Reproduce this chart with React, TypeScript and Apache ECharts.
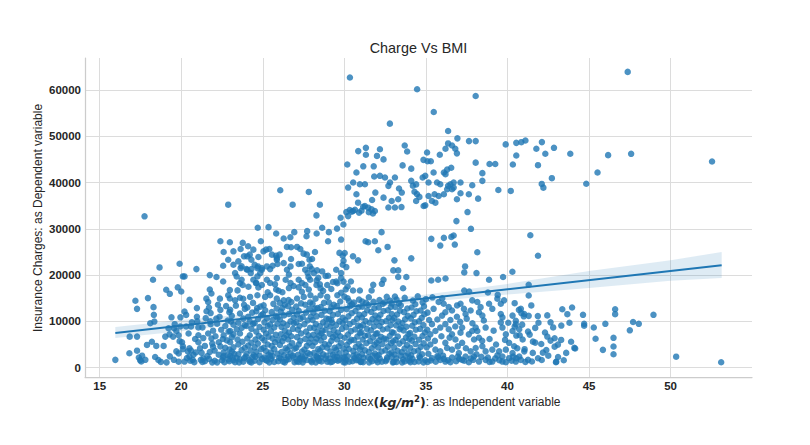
import React, { useEffect, useRef } from "react";
import * as echarts from "echarts";

const FONT = "'Liberation Sans', Arial, Helvetica, sans-serif";
const TEXT = "#262626";
const BLUE = "#1f77b4";

// Regression line and confidence band
const regX = [15.96, 53.13];
const regY = [7495, 22119];
const bandX = [15.96, 20, 25, 30, 35, 40, 45, 50, 53.13];
const bandLower = [6400, 7900, 10200, 12350, 14200, 15800, 17200, 18800, 19400];
const bandUpper = [8800, 10300, 11900, 13700, 15800, 18100, 20900, 23200, 25000];

// Smokers with BMI above 30
const smokersHighBmi: number[][] = [
  [30.34,62680],[34.46,60150],[38.05,58700],[35.48,55230],[32.79,52720],[36.36,51120],[36.93,49540],[37.64,48950],[38.05,48950],[36.36,48450],
  [36.6,48000],[36.8,47300],[36.9,46300],[36.2,47300],[33.7,48000],[33.85,46700],[30.85,46790],[31.32,47500],[31.32,46000],[32.18,47200],
  [32.0,45750],[32.4,45000],[35.85,46000],[35.07,46500],[34.85,44900],[35.1,44600],[35.3,44600],[38.05,44300],[39.25,44000],[38.9,44000],
  [30.18,43900],[31.16,43500],[31.8,43500],[33.57,43700],[34.1,43000],[36.55,43200],[36.3,42800],
  [30.74,42170],[30.54,40000],[30.95,39640],[31.26,39640],[30.23,38910],[31.83,41300],[32.18,41450],[32.49,41090],[32.8,40000],[32.7,39280],
  [33.1,41090],[33.35,38700],[33.52,37830],[33.3,36380],[32.9,36020],[32.4,36740],[31.9,37830],[31.7,36230],[30.84,35650],[31.26,34930],
  [31.46,34570],[31.67,34200],[31.87,33840],[31.15,34780],[30.33,34060],[30.74,37460],[34.1,40360],[34.2,39300],[34.4,39600],[34.3,38000],
  [34.45,37500],[34.6,36900],[34.4,36020],[34.86,34930],[34.96,35070],[34.8,41090],[34.96,41450],[35.16,40000],[35.47,42170],[35.68,40000],
  [35.88,39640],[36.1,42170],[36.2,41810],[36.36,39280],[36.5,39640],[36.7,40000],[37.12,40000],[36.7,38910],[36.6,38550],[36.3,38550],
  [36.1,37460],[35.78,37100],[35.53,37460],[35.37,36020],[35.58,35650],[35.16,37100],[36.9,36380],[37.12,37680],[37.63,37460],[37.84,39420],
  [38.46,40360],[38.46,42030],[38.2,36520],[39.44,38400],[40.2,38190],[37.55,33620],[37.76,30000],[36.87,31670],
  [30.45,33700],[30.65,34100],[30.9,33500],[31.05,33900],[31.5,33600],[31.75,33300],[32.7,34600],[33.1,34600],[33.5,34700],
  [30.12,33620],[30.23,32750],[30.53,33840],[29.77,32390],[29.94,30940],[29.55,30050],
  [39.89,48240],[40.33,43900],[40.54,45830],[40.54,48570],[40.85,48720],[41.1,49080],
  [42.11,48735],[41.77,47300],[42.85,47500],[42.32,46220],[43.85,46220],[41.87,43750],[42.72,40940],[42.1,39700],[42.2,38900],
  [44.83,39730],[45.52,42170],[46.17,45920],[47.58,46200],[52.54,44550],[47.37,63900]
];

// Smokers with BMI below 30
const smokersLowBmi: number[][] = [
  [17.75,32700],[17.19,14450],[17.29,12710],[17.96,15030],[18.27,19000],[18.3,13080],[18.67,21660],[19.08,16830],[19.3,15960],
  [26.07,38330],[27.82,37970],[22.88,35220],[26.83,35220],[28.5,35220],[28.29,32900],[24.69,30220],[25.35,30360],[25.82,28990],[26.28,27900],
  [26.69,28190],[26.93,29280],[27.72,29500],[27.68,28400],[28.3,29000],[28.64,30220],[29.05,29280],[29.0,27320],[29.8,27680],[22.4,27320],
  [22.98,27100],[23.77,26960],[22.6,25000],[23.2,25140],[23.64,25650],[24.1,26230],[24.42,25500],[24.88,27320],[24.2,24420],[23.85,24060],
  [24.73,23910],[25.04,25140],[25.2,25500],[25.4,25650],[25.56,24420],[25.82,24200],[25.86,23330],[26.48,26090],[26.73,26020],[27.1,26090],
  [27.3,25650],[27.5,24640],[27.7,24420],[28.2,25000],[27.86,23330],[28.02,23480],[26.73,23480],[26.28,22600],[27.2,22400],[27.4,22460],
  [27.88,21900],[28.0,21300],[28.13,20440],[28.33,21020],[28.64,20800],[29.0,19860],[28.85,19800],[29.7,24800],[29.9,24200],[29.95,23100],
  [29.9,22250],[29.5,21160],[29.8,20440],[29.8,19350],[29.5,18600],[29.95,18600],[22.88,23330],[22.57,22030],[23.2,22250],[23.5,22970],
  [24.05,24060],[24.3,23330],[24.5,22250],[24.7,21880],[24.94,21160],[23.7,21900],[24.0,21300],[24.3,21300],[24.67,21520],[24.94,21520],
  [25.25,21880],[25.45,21300],[25.6,22030],[25.9,22400],[25.86,23700],[26.03,24420],[24.84,20440],[24.67,19720],[24.42,19000],[24.05,21160],
  [24.26,20440],[23.64,21520],[23.3,20440],[23.4,19700],[23.7,19000],[24.6,18350],[25.25,19000],[25.45,18300],[25.86,19350],[25.75,18000],
  [26.48,21160],[26.7,21880],[26.6,20100],[26.4,19000],[26.7,18300],[27.2,19000],[27.4,18300],[27.6,21160],[27.75,20440],[27.8,19580],
  [27.9,19000],[28.3,18850],[28.4,19400],[28.5,18000],[29.3,18500],[19.9,22460],[20.93,21300],[20.1,19720],[20.2,19720],[21.75,20000],
  [22.16,19580],[22.57,18620],
  [19.79,17350],[21.75,16900],[21.85,16020],[21.54,14920],[21.65,14190],[22.98,16760],[22.88,15660],[23.6,18230],[23.77,17860],[24.12,17490],
  [24.59,18230],[24.73,17350],[24.94,17860],[25.82,16900],[25.97,16610],[26.89,17640],[27.2,17350],[27.61,17860],[27.82,16900],[28.29,17860],
  [28.54,17130],[28.95,17860],[29.57,18230],[30.08,16900],[22.37,14920],[22.98,14950],[23.3,14550],[23.6,15100],[23.8,14900],[24.22,15290],
  [24.67,15660],[25.14,15290],[25.45,15660],[25.86,14920],[26.28,14550],[26.58,14600],[27.1,14950],[27.51,15290],[27.92,15660],[28.23,14920],
  [28.54,15660],[28.95,15290],[29.57,15660],[20.0,16450],[23.45,16700],[26.2,16300],[26.6,17200],[27.4,16400],[28.7,16600],[29.2,17000],
  [29.8,16200],[25.3,16300],[20.51,14660]
];

// Non-smokers with unusually high charges
const nonSmokerHigh: number[][] = [
  [32.28,29280],[31.3,27320],[31.46,27100],[31.87,27320],[32.08,25360],[32.65,26090],[30.53,24060],[30.84,23190],[30.02,24780],[30.12,21740],
  [33.07,23190],[34.1,23620],[33.3,21020],[33.0,21020],[33.3,19580],[33.8,19580],[32.4,18990],[32.3,18120],[31.77,17900],[31.67,16670],
  [30.4,18620],[30.2,17540],[30.0,15360],[30.53,16670],[30.95,16670],[33.6,17170],[33.1,15360],[35.33,27830],[36.1,28050],[36.56,28260],
  [36.7,28550],[35.88,26380],[36.77,26600],[38.15,24930],[37.4,21880],[37.35,20580],[38.1,20440],[35.33,18840],[35.75,19000],[36.2,19280],
  [38.87,18990],[39.73,19580],[40.3,20730],[37.35,16670],[37.65,16450],[38.8,16240],[39.4,15720],[41.4,28600],[41.87,24190],[41.3,17910],
  [41.3,15600],[40.44,13940],[41.46,13450]
];

// Main band, BMI below 25
const bandBmiLow: number[][] = [
  [15.96,1695],[16.82,3120],[16.84,6710],[17.29,6715],[17.29,3680],[17.4,2200],[17.48,1630],[17.6,2600],[17.8,1700],[17.9,4920],[17.55,1350],
  [18.1,9600],[18.32,11420],[18.35,9960],[18.47,4700],[18.6,1670],[18.92,4700],[18.4,2300],[18.75,1250],[18.2,5600],
  [19.02,6715],[19.22,8530],[19.5,6715],[19.56,8530],[19.94,8900],[19.84,7000],[19.84,3100],[19.84,1300],[19.28,7200],[19.7,7940],
  [19.9,5730],[19.7,3530],[19.6,9400],[19.4,10880],[19.95,10880],[19.55,1700],[19.3,2450],[19.1,1150],
  [20.1,4630],[20.4,3530],[20.5,2430],[20.7,1690],[20.2,1320],[20.3,11400],[20.3,8900],[20.6,8900],[20.5,4200],[20.6,3700],
  [20.05,5500],[20.1,4000],[20.35,2100],[20.55,1500],[20.75,2800],[20.9,3300],[20.96,11000],[20.98,10000],[20.85,6200],[20.2,12130],
  [20.45,7400],[20.65,9800],[20.8,1200],[20.96,12870],
  [21.05,8700],[21.3,8700],[21.05,7000],[21.05,5500],[21.35,6400],[21.45,4700],[21.15,4200],[21.25,3200],[21.35,2000],[21.45,1400],
  [21.6,2500],[21.78,10000],[21.8,9400],[21.95,8000],[21.85,6300],[21.9,5200],[21.95,4500],[21.7,13000],[21.8,11800],[21.55,12200],
  [21.2,1700],[21.65,7400],[21.5,10700],[21.9,1150],[21.75,3400],
  [22.4,12500],[22.35,11000],[22.1,6800],[22.3,5500],[22.4,4600],[22.05,3700],[22.3,2800],[22.05,1500],[22.5,1600],[22.55,2200],
  [22.6,3300],[22.7,4300],[22.8,5900],[22.6,7000],[22.9,7800],[22.7,9000],[22.85,10200],[22.95,12000],[22.2,9500],[22.15,10600],
  [22.45,8200],[22.65,1200],[22.85,2700],[22.95,3900],[22.25,13600],[22.75,13300],[22.55,6200],[22.9,1800],
  [23.0,12500],[23.1,11200],[23.05,10000],[23.2,9300],[23.0,7900],[23.2,7200],[23.1,6600],[23.0,5500],[23.2,4400],[23.1,3500],
  [23.0,2500],[23.2,1600],[23.3,1200],[23.4,2100],[23.5,2900],[23.6,1800],[23.7,3800],[23.5,5000],[23.45,6100],[23.6,7400],
  [23.7,8600],[23.5,9700],[23.8,10600],[23.6,11700],[23.9,12700],[23.85,13600],[23.35,13400],[23.75,5600],[23.9,4300],[23.95,2400],
  [23.8,1300],[23.4,8300],[23.9,9200],[23.25,3000],
  [24.05,13000],[24.1,11000],[24.2,10000],[24.0,9000],[24.3,8400],[24.2,7000],[24.05,6300],[24.3,5400],[24.1,4800],[24.25,3700],
  [24.0,3000],[24.35,2300],[24.15,1700],[24.3,1150],[24.5,1500],[24.45,2700],[24.6,3400],[24.5,4400],[24.7,5200],[24.55,6100],
  [24.75,6900],[24.6,7800],[24.8,8800],[24.5,9600],[24.7,10500],[24.9,11300],[24.6,12200],[24.85,13200],[24.4,14000],[24.95,1900],
  [24.8,2600],[24.9,4000],[24.65,12900],[24.35,11900],[24.95,6400],[24.4,9500]
];

// Main band, BMI 25 to 30
const bandBmiMid: number[][] = [
  [25.05,13500],[25.15,12400],[25.0,11600],[25.25,10700],[25.1,9800],[25.3,9000],[25.05,8200],[25.2,7400],[25.35,6700],[25.1,5900],
  [25.3,5000],[25.05,4300],[25.2,3600],[25.35,2800],[25.1,2200],[25.25,1500],[25.4,1150],[25.5,1900],[25.6,2500],[25.5,3300],
  [25.7,4000],[25.55,4700],[25.75,5500],[25.6,6300],[25.8,7100],[25.5,7900],[25.7,8700],[25.9,9500],[25.6,10300],[25.8,11200],
  [25.55,12000],[25.85,12800],[25.65,13800],[25.95,1400],[25.9,3000],[25.95,6000],[25.45,9300],[25.9,10800],
  [26.05,14000],[26.2,12900],[26.1,12100],[26.3,11300],[26.05,10400],[26.25,9600],[26.15,8800],[26.35,8000],[26.1,7200],[26.3,6500],
  [26.2,5700],[26.05,4900],[26.4,4200],[26.15,3400],[26.3,2700],[26.1,2000],[26.25,1300],[26.45,1700],[26.55,2400],[26.7,3100],
  [26.5,3800],[26.65,4600],[26.8,5300],[26.55,6100],[26.75,6800],[26.6,7600],[26.85,8400],[26.5,9200],[26.7,10000],[26.9,10800],
  [26.6,11600],[26.8,12500],[26.55,13300],[26.95,1200],[26.9,2200],[26.95,4100],[26.45,7000],[26.9,9600],[26.35,13600],[26.75,14200],
  [27.05,13200],[27.2,12300],[27.1,11500],[27.3,10600],[27.05,9800],[27.25,9000],[27.15,8200],[27.35,7400],[27.1,6600],[27.3,5800],
  [27.2,5000],[27.05,4300],[27.4,3500],[27.15,2800],[27.3,2100],[27.1,1400],[27.45,1150],[27.5,1800],[27.6,2500],[27.75,3200],
  [27.55,3900],[27.7,4700],[27.85,5400],[27.6,6200],[27.8,7000],[27.65,7800],[27.9,8600],[27.55,9400],[27.75,10200],[27.95,11000],
  [27.65,11900],[27.85,12700],[27.6,13600],[27.95,1500],[27.9,2900],[27.95,6300],[27.45,10900],[27.9,14100],[27.35,13900],[27.25,1900],
  [28.05,13800],[28.2,12800],[28.1,11900],[28.3,11100],[28.05,10300],[28.25,9400],[28.15,8600],[28.35,7800],[28.1,7100],[28.3,6300],
  [28.2,5500],[28.05,4700],[28.4,4000],[28.15,3200],[28.3,2500],[28.1,1800],[28.25,1150],[28.45,1500],[28.55,2200],[28.7,2900],
  [28.5,3600],[28.65,4400],[28.8,5100],[28.55,5900],[28.75,6600],[28.6,7400],[28.85,8200],[28.5,9000],[28.7,9800],[28.9,10600],
  [28.6,11400],[28.8,12300],[28.55,13100],[28.95,1300],[28.9,2600],[28.95,4300],[28.45,6900],[28.9,9300],[28.35,12900],[28.75,14000],
  [28.4,2000],[28.65,8000],
  [29.05,14100],[29.2,13000],[29.1,12200],[29.3,11400],[29.05,10500],[29.25,9700],[29.15,8900],[29.35,8100],[29.1,7300],[29.3,6600],
  [29.2,5800],[29.05,5000],[29.4,4300],[29.15,3500],[29.3,2800],[29.1,2000],[29.25,1300],[29.45,1700],[29.55,2400],[29.7,3100],
  [29.5,3800],[29.65,4600],[29.8,5300],[29.55,6100],[29.75,6800],[29.6,7600],[29.85,8400],[29.5,9200],[29.7,10000],[29.9,10800],
  [29.6,11600],[29.8,12500],[29.55,13300],[29.95,1200],[29.9,2200],[29.95,4100],[29.45,7000],[29.9,9600],[29.35,13600],[29.75,14300],
  [29.6,1500],[29.2,10300]
];

// Main band, BMI 30 to 35
const bandBmiHigh: number[][] = [
  [30.05,1150],[30.12,1720],[30.2,2450],[30.08,3300],[30.27,4050],[30.15,4900],[30.31,5650],[30.02,6480],[30.22,7150],[30.4,7900],
  [30.11,8750],[30.33,9420],[30.06,10250],[30.25,11100],[30.45,11780],[30.14,12640],[30.36,13350],[30.58,14050],[30.5,1380],[30.62,2050],
  [30.75,2830],[30.55,3620],[30.7,4480],[30.88,5120],[30.6,5950],[30.8,6720],[30.95,7480],[30.66,8260],[30.85,9100],[30.57,9890],
  [30.78,10600],[30.92,11450],[30.68,12250],[30.87,13050],[30.47,13700],[30.98,1260],[30.9,2380],[30.96,3950],[30.42,6050],[30.99,8820],
  [30.28,14400],[30.73,1600],
  [31.03,1300],[31.18,2150],[31.09,2900],[31.27,3750],[31.05,4520],[31.35,5300],[31.12,6100],[31.26,6900],[31.04,7650],[31.38,8400],
  [31.15,9250],[31.3,10050],[31.07,10850],[31.22,11600],[31.4,12400],[31.1,13200],[31.33,14000],[31.52,1150],[31.6,1850],[31.74,2600],
  [31.5,3400],[31.68,4200],[31.85,4950],[31.58,5750],[31.77,6550],[31.93,7300],[31.63,8100],[31.82,8900],[31.55,9700],[31.72,10500],
  [31.9,11250],[31.65,12050],[31.84,12850],[31.48,13550],[31.96,1600],[31.88,3050],[31.98,5400],[31.45,7000],[31.95,9900],[31.79,14250],
  [32.04,1200],[32.17,1950],[32.1,2750],[32.28,3500],[32.06,4350],[32.33,5100],[32.13,5900],[32.25,6650],[32.02,7450],[32.36,8250],
  [32.16,9000],[32.3,9850],[32.08,10700],[32.21,11450],[32.4,12250],[32.11,13000],[32.35,13800],[32.53,1400],[32.62,2200],[32.76,2950],
  [32.51,3750],[32.67,4550],[32.86,5300],[32.57,6100],[32.78,6850],[32.92,7650],[32.64,8450],[32.83,9200],[32.56,10050],[32.73,10800],
  [32.91,11600],[32.66,12400],[32.85,13150],[32.47,14100],[32.97,1150],[32.89,3300],[32.99,5700],[32.44,6300],[32.94,10300],[32.8,14500],
  [33.03,1250],[33.19,2000],[33.08,2850],[33.26,3650],[33.05,4400],[33.37,5200],[33.14,6000],[33.28,6750],[33.02,7550],[33.39,8300],
  [33.17,9150],[33.31,9950],[33.06,10750],[33.23,11500],[33.41,12300],[33.12,13100],[33.34,13900],[33.54,1150],[33.61,1800],[33.75,2550],
  [33.52,3350],[33.69,4150],[33.84,4900],[33.59,5700],[33.78,6500],[33.93,7250],[33.63,8050],[33.81,8850],[33.56,9650],[33.72,10450],
  [33.89,11200],[33.66,12000],[33.86,12800],[33.46,13500],[33.97,1500],[33.91,3100],[33.98,6200],[33.48,8700],
  [34.05,1200],[34.18,1900],[34.09,2700],[34.27,3550],[34.04,4300],[34.36,5100],[34.13,5850],[34.29,6700],[34.03,7500],[34.38,8200],
  [34.16,9050],[34.32,9800],[34.07,10650],[34.24,11400],[34.42,12200],[34.12,13000],[34.35,13700],[34.55,1350],[34.63,2150],[34.77,2900],
  [34.52,3700],[34.68,4500],[34.86,5250],[34.58,6050],[34.79,6850],[34.94,7600],[34.64,8400],[34.84,9200],[34.57,10000],[34.74,10750],
  [34.9,11550],[34.67,12350],[34.88,13250],[34.96,1600]
];

// Main band, BMI above 35
const bandBmiTop: number[][] = [
  [35.47,12720],[35.78,14190],[36.09,13820],[36.19,11980],[35.99,11250],[36.4,13080],[36.6,12350],[36.91,13450],[37.12,13820],[37.33,12720],
  [37.43,11610],[37.74,12350],[37.84,14550],[38.15,14190],[38.35,13080],[38.25,11980],[38.46,11250],[38.87,13820],[39.07,12720],[39.38,14920],
  [39.59,13820],[39.79,14550],[39.59,11610],[39.69,10880],[40.31,11250],[40.51,10140],[40.82,12720],[41.03,11610],
  [35.37,9410],[35.58,7940],[35.27,7200],[35.88,8670],[36.19,9410],[36.4,8310],[36.6,7200],[36.81,6100],[37.12,7570],[37.22,8670],
  [37.63,7200],[37.84,7940],[38.05,8670],[38.25,6470],[38.15,7940],[38.66,8670],[39.59,9780],[39.69,8670],[39.9,7200],[40.31,7940],
  [40.51,9410],[40.72,8310],[40.1,5370],[40.41,4630],[40.93,6100],
  [35.27,5000],[35.58,3900],[35.88,3530],[36.19,5370],[36.3,4260],[36.6,3900],[37.02,3160],[37.22,5370],[37.43,2430],[37.74,3530],
  [38.05,4260],[38.46,4630],[38.66,3530],[39.07,3900],[39.49,3530],[39.69,2430],[39.9,3900],[40.31,3160],[40.72,2430],[41.03,3530],
  [35.37,2060],[35.88,1690],[36.19,1320],[36.6,2200],[37.22,1690],[37.63,1180],[37.94,2430],[38.25,1320],[38.66,1690],[39.07,1320],
  [39.38,2650],[39.69,1320],[40.1,2060],[40.51,1320],[40.82,1690],
  [35.1,1250],[35.15,3000],[35.05,4400],[35.12,6300],[35.08,8200],[35.2,10300],[35.1,11900],[35.6,1300],[35.7,2500],[35.55,5800],
  [35.7,10400],[35.95,6800],[36.05,2600],[36.35,1600],[36.45,6500],[36.5,10300],[36.85,1400],[36.95,4600],[36.8,8900],[36.9,11000],
  [37.05,1900],[37.1,9900],[37.45,4200],[37.5,10600],[37.9,1700],[37.95,6100],[37.85,9600],[38.1,2900],[38.45,5800],[38.55,10200],
  [38.8,2200],[38.9,6200],[39.15,8000],[39.3,5000],[39.5,1600],[39.85,6000],[40.05,9700],[40.25,1500],[40.6,4200],[40.9,9300],
  [40.44,8880],[40.54,6940],[40.75,7000],[41.26,7800],[41.36,7150],[41.56,5630],[41.7,5420],[42.07,5130],[42.44,6720],[42.64,5850],
  [42.89,6350],[43.29,6000],[43.09,4980],[42.89,4550],[42.38,3830],[42.17,3250],[41.87,2040],[41.05,4000],[40.54,2040],[41.26,1700],
  [42.99,1300],[40.7,12500],[40.85,11800],[41.0,11100],[41.3,11200],[41.86,11150],[42.44,11300],[42.64,9800],[43.36,12630],[43.67,11560],
  [43.96,13010],[44.63,11420],[44.7,9480],[44.7,9050],[45.29,8690],[45.4,6240],[46.0,9480],[46.6,12630],[46.6,11560],[46.5,6450],
  [46.5,4570],[46.5,2910],[45.85,3850],[44.1,4280],[44.15,4150],[47.5,8070],[47.7,9870],[48.05,9480],[48.95,11420],[50.34,2380],
  [53.1,1170],[41.1,1250],[41.55,3200],[41.7,8600],[41.9,9700],[42.1,1650],[42.3,7600],[42.5,2600],[42.8,8700],[42.97,1170],
  [43.1,2300],[43.3,9100],[43.6,3200],[43.8,9700],[43.9,5600],[43.45,1600]
];

// Youngest non-smokers: dense lowest row of charges
const bottomRow: number[][] = [
  [21.3,1250],[21.7,1900],[22.2,1150],[22.6,2500],[22.95,1400],[23.15,2250],[23.55,1150],[23.85,2050],[24.2,1300],[24.55,2350],
  [24.8,1200],[25.15,1750],[25.45,2450],[25.7,1250],[26.0,2150],[26.35,1150],[26.6,1850],[26.85,2600],[27.2,1250],[27.4,2350],
  [27.7,1650],[28.0,1200],[28.35,2250],[28.6,1350],[28.85,1900],[29.15,1200],[29.4,2400],[29.7,1750],[30.0,2250],[30.3,1300],
  [30.55,2600],[30.85,1700],[31.15,1200],[31.45,2250],[31.7,1400],[32.0,2500],[32.3,1300],[32.6,1750],[32.9,2350],[33.2,1250],
  [33.45,2600],[33.7,1350],[34.0,2100],[34.3,1250],[34.6,2450],[34.85,1150],[35.3,1550],[35.75,2250],[36.1,1900],[36.5,1200],
  [36.95,2400],[37.35,1500],[37.75,2000],[38.4,2350],[38.9,1250],[39.25,2000],[39.9,1200],[40.35,2400],[41.5,1350]
];

// Upper edge of the main band around BMI 30 to 36
const bandUpperEdge: number[][] = [
  [30.2,15000],[30.9,14700],[31.5,15200],[32.15,14600],[32.6,15300],[33.2,14700],[33.7,15100],[34.2,14500],[34.5,15400],[35.0,14800],
  [35.4,15200],[36.0,15000],[31.1,14300],[32.9,13900],[34.8,14100]
];

const allPoints = [
  ...bandBmiLow, ...bandBmiMid, ...bandBmiHigh, ...bandBmiTop, ...bottomRow, ...bandUpperEdge,
  ...nonSmokerHigh, ...smokersLowBmi, ...smokersHighBmi,
];

export default function App() {
  const ref = useRef<HTMLDivElement>(null);
  useEffect(() => {
    if (!ref.current) return;
    const chart = echarts.init(ref.current, undefined, { renderer: "svg" });
    const bandPoly = [
      ...bandX.map((x, i) => [x, bandUpper[i]]),
      ...bandX.map((x, i) => [x, bandLower[i]]).reverse(),
    ];
    chart.setOption({
      animation: false,
      backgroundColor: "#ffffff",
      grid: { left: 85, top: 58, width: 667, height: 319, containLabel: false },
      xAxis: {
        type: "value",
        min: 14.1,
        max: 54.99,
        splitNumber: 8,
        axisLine: { show: true, onZero: false, lineStyle: { color: "#cccccc", width: 1.25 } },
        axisTick: { show: false },
        axisLabel: {
          color: TEXT, fontWeight: "bold", fontSize: 11.5, fontFamily: FONT, margin: 3,
          formatter: (v: number) => (Math.abs(v - Math.round(v / 5) * 5) < 1e-6 ? String(Math.round(v)) : ""),
        },
        splitLine: { show: true, showMinLine: false, showMaxLine: false, lineStyle: { color: "#dcdcdc", width: 1 } },
      },
      yAxis: {
        type: "value",
        min: -2010,
        max: 66903,
        splitNumber: 7,
        axisLine: { show: true, onZero: false, lineStyle: { color: "#cccccc", width: 1.25 } },
        axisTick: { show: false },
        axisLabel: {
          color: TEXT, fontWeight: "bold", fontSize: 11.5, fontFamily: FONT, margin: 4,
          formatter: (v: number) => (Math.abs(v - Math.round(v / 10000) * 10000) < 1e-6 ? String(Math.round(v)) : ""),
        },
        splitLine: { show: true, showMinLine: false, showMaxLine: false, lineStyle: { color: "#dcdcdc", width: 1 } },
      },
      series: [
        {
          type: "scatter",
          data: allPoints,
          symbol: "circle",
          symbolSize: 6.5,
          itemStyle: { color: BLUE, opacity: 0.8 },
          silent: true,
          z: 2,
        },
        {
          type: "custom",
          data: [[bandX[0], bandLower[0]]],
          silent: true,
          z: 3,
          renderItem: (params: any, api: any) => {
            const pts = bandPoly.map((p) => api.coord(p));
            return {
              type: "polygon",
              shape: { points: pts },
              style: { fill: "rgba(31,119,180,0.15)", stroke: "none" },
            };
          },
        },
        {
          type: "line",
          data: regX.map((x, i) => [x, regY[i]]),
          showSymbol: false,
          symbol: "none",
          lineStyle: { color: BLUE, width: 2 },
          silent: true,
          z: 4,
        },
      ],
      graphic: [
        {
          type: "text", x: 418.5, y: 48,
          style: { text: "Charge Vs BMI", fontSize: 14.4, fontFamily: FONT, fill: TEXT, align: "center", verticalAlign: "middle" },
        },
        {
          type: "text", x: 38, y: 218, rotation: Math.PI / 2,
          style: { text: "Insurance Charges: as Dependent variable", fontSize: 12, fontFamily: FONT, fill: TEXT, align: "center", verticalAlign: "middle" },
        },
        {
          type: "text", x: 421, y: 402,
          style: {
            text: "{a|Boby Mass Index}{b|(}{m|kg/m}{s|2}{b|)}{a|: as Independent variable}",
            align: "center", verticalAlign: "middle",
            rich: {
              a: { fontSize: 12, fontFamily: FONT, fill: TEXT, lineHeight: 16 },
              b: { fontSize: 12.5, fontFamily: "'DejaVu Sans', sans-serif", fontWeight: "bold", fill: TEXT, lineHeight: 16 },
              m: { fontSize: 12.5, fontFamily: "'DejaVu Sans', sans-serif", fontWeight: "bold", fontStyle: "italic", fill: TEXT, lineHeight: 16 },
              s: { fontSize: 8.5, fontFamily: "'DejaVu Sans', sans-serif", fontWeight: "bold", fill: TEXT, verticalAlign: "top", lineHeight: 10 },
            },
          },
        },
      ],
    });
    return () => chart.dispose();
  }, []);
  return (
    <div style={{ position: "fixed", left: 0, top: 0, width: 810, height: 445, background: "#fff" }}>
      <div ref={ref} style={{ width: 810, height: 445 }} />
    </div>
  );
}
